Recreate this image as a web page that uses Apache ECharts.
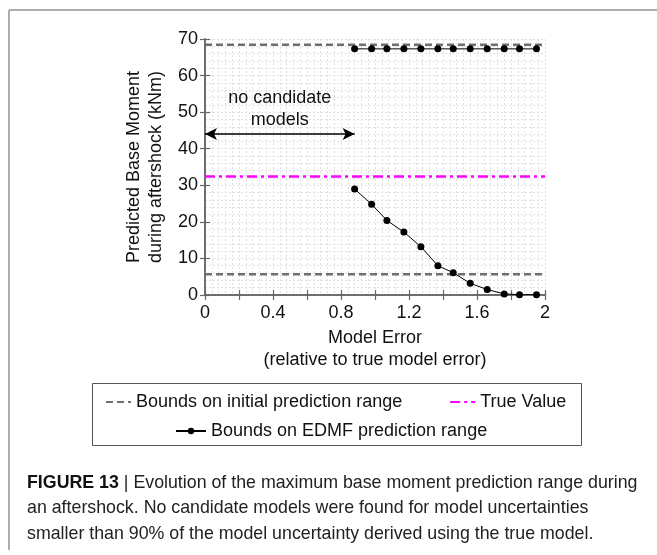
<!DOCTYPE html>
<html>
<head>
<meta charset="utf-8">
<script src="https://cdn.jsdelivr.net/npm/echarts@6/dist/echarts.min.js"></script>
<style>
html,body{margin:0;padding:0;background:#fff;}
#chart{width:657px;height:555px;}
</style>
</head>
<body>
<div id="chart"></div>
<script>
// ---- data ----
var modelError = [0.88, 0.98, 1.07, 1.17, 1.27, 1.37, 1.46, 1.56, 1.66, 1.76, 1.85, 1.95];
var edmfUpper = [67.3, 67.3, 67.3, 67.3, 67.3, 67.3, 67.3, 67.3, 67.3, 67.3, 67.3, 67.3];
var edmfLower = [29.0, 24.8, 20.4, 17.2, 13.2, 8.0, 6.1, 3.2, 1.5, 0.3, 0.1, 0.1];
var initialBounds = [68.4, 5.7];
var initialRangeX = [0, 2];
var trueValue = 32.4;
var noCandidateRange = [0, 0.88];
var arrowLevel = 44;
var xTickLabels = ['0', '0.4', '0.8', '1.2', '1.6', '2'];

var FONT = 'Liberation Sans, Arial, sans-serif';
var nameInit = 'Bounds on initial prediction range';
var nameTrue = 'True Value';
var nameEdmf = 'Bounds on EDMF prediction range';

function pairs(xs, ys) { return xs.map(function (x, i) { return [x, ys[i]]; }); }

var chart = echarts.init(document.getElementById('chart'), null, {renderer: 'canvas'});

var gridLine = {show: true, lineStyle: {color: '#e0e0e0', width: 1, type: [2, 2]}};
var axisLine = {show: true, lineStyle: {color: '#666', width: 1.5}};

var series = [
  {
    name: nameInit, type: 'line',
    data: pairs(initialRangeX, [initialBounds[0], initialBounds[0]]),
    symbol: 'none', lineStyle: {color: '#707070', width: 2.5, type: [7, 4]}, itemStyle: {color: '#707070'}, z: 3
  },
  {
    name: nameInit, type: 'line',
    data: pairs(initialRangeX, [initialBounds[1], initialBounds[1]]),
    symbol: 'none', lineStyle: {color: '#707070', width: 2.5, type: [7, 4]}, itemStyle: {color: '#707070'}, z: 3
  },
  {
    name: nameTrue, type: 'line',
    data: pairs(initialRangeX, [trueValue, trueValue]),
    symbol: 'none', lineStyle: {color: '#ff00ff', width: 2.5, type: [10, 4, 3, 4]}, itemStyle: {color: '#ff00ff'}, z: 3
  },
  {
    name: nameEdmf, type: 'line',
    data: pairs(modelError, edmfUpper),
    symbol: 'circle', symbolSize: 7, showSymbol: true,
    lineStyle: {color: '#000', width: 1}, itemStyle: {color: '#000'}, z: 4
  },
  {
    name: nameEdmf, type: 'line',
    data: pairs(modelError, edmfLower),
    symbol: 'circle', symbolSize: 7, showSymbol: true,
    lineStyle: {color: '#000', width: 1}, itemStyle: {color: '#000'}, z: 4
  },
  {
    name: 'annotation', type: 'line', data: [], silent: true,
    markLine: {
      silent: true, symbol: ['arrow', 'arrow'], symbolSize: [9, 12],
      lineStyle: {color: '#000', width: 1.5, type: 'solid'},
      label: {show: false},
      data: [[{coord: [noCandidateRange[0], arrowLevel]}, {coord: [noCandidateRange[1], arrowLevel]}]]
    },
    markPoint: {
      silent: true, symbol: 'circle', symbolSize: 0,
      label: {
        show: true, position: 'inside', formatter: 'no candidate\nmodels',
        fontFamily: FONT, fontSize: 18, color: '#111', lineHeight: 22, align: 'center'
      },
      data: [{coord: [(noCandidateRange[0] + noCandidateRange[1]) / 2, 50.8]}]
    }
  }
];

var option = {
  backgroundColor: '#fff',
  animation: false,
  textStyle: {fontFamily: FONT},
  grid: {left: 205, right: 112, top: 39, bottom: 260, containLabel: false},
  xAxis: [
    {
      type: 'value', position: 'bottom', min: 0, max: 2, interval: 0.2,
      axisLine: axisLine,
      axisTick: {show: true, inside: true, length: 5, lineStyle: {color: '#666', width: 1.2}},
      axisLabel: {
        fontFamily: FONT, fontSize: 18, color: '#111', margin: 9,
        formatter: function (v) {
          var k = v / 0.4;
          if (Math.abs(k - Math.round(k)) < 1e-6) return xTickLabels[Math.round(k)];
          return '';
        }
      },
      splitLine: gridLine,
      minorTick: {show: false, splitNumber: 5},
      minorSplitLine: gridLine,
      name: 'Model Error\n(relative to true model error)',
      nameLocation: 'middle', nameGap: 32,
      nameTextStyle: {fontFamily: FONT, fontSize: 18, color: '#111', lineHeight: 22}
    },
    {
      type: 'value', position: 'top', min: 0, max: 2, interval: 0.2,
      axisLine: axisLine,
      axisTick: {show: true, inside: true, length: 5, lineStyle: {color: '#666', width: 1.2}},
      axisLabel: {show: false}, splitLine: {show: false}
    }
  ],
  yAxis: [
    {
      type: 'value', position: 'left', min: 0, max: 70, interval: 10,
      axisLine: axisLine,
      axisTick: {show: true, inside: true, length: 5, lineStyle: {color: '#666', width: 1.2}},
      axisLabel: {fontFamily: FONT, fontSize: 18, color: '#111', margin: 7},
      splitLine: gridLine,
      minorTick: {show: false, splitNumber: 5},
      minorSplitLine: gridLine,
      name: 'Predicted Base Moment\nduring aftershock (kNm)',
      nameLocation: 'middle', nameRotate: 90, nameGap: 38,
      nameTextStyle: {fontFamily: FONT, fontSize: 18, color: '#111', lineHeight: 22}
    },
    {
      type: 'value', position: 'right', min: 0, max: 70, interval: 10,
      axisLine: axisLine,
      axisTick: {show: true, inside: true, length: 5, lineStyle: {color: '#666', width: 1.2}},
      axisLabel: {show: false}, splitLine: {show: false}
    }
  ],
  legend: [
    {
      data: [
        {name: nameInit, itemStyle: {opacity: 0}},
        {name: nameTrue, itemStyle: {opacity: 0}}
      ],
      left: 100, top: 388, orient: 'horizontal',
      itemWidth: 25, itemHeight: 14, itemGap: 47, selectedMode: false,
      textStyle: {fontFamily: FONT, fontSize: 18, color: '#111'}
    },
    {
      data: [nameEdmf], left: 170, top: 417, orient: 'horizontal',
      itemWidth: 30, itemHeight: 8, selectedMode: false,
      textStyle: {fontFamily: FONT, fontSize: 18, color: '#111'}
    }
  ],
  graphic: [
    {type: 'rect', shape: {x: 92.5, y: 383.5, width: 489, height: 62}, style: {fill: 'none', stroke: '#555', lineWidth: 1}, silent: true},
    {type: 'line', shape: {x1: 9, y1: 10, x2: 657, y2: 10}, style: {stroke: '#adadad', lineWidth: 2}, silent: true},
    {type: 'line', shape: {x1: 9, y1: 10, x2: 9, y2: 550}, style: {stroke: '#adadad', lineWidth: 2}, silent: true},
    {
      type: 'text', left: 27, top: 470, silent: true,
      style: {
        text: '{b|FIGURE 13} | Evolution of the maximum base moment prediction range during\nan aftershock. No candidate models were found for model uncertainties\nsmaller than 90% of the model uncertainty derived using the true model.',
        font: '17.8px ' + FONT, fill: '#222', lineHeight: 25.5,
        rich: {b: {font: 'bold 17.8px ' + FONT, fill: '#111', lineHeight: 25.5}}
      }
    }
  ],
  series: series
};
chart.setOption(option);
</script>
</body>
</html>
